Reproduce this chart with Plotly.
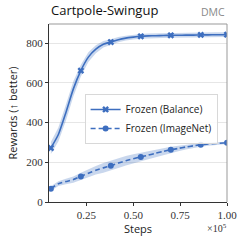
import plotly.graph_objects as go

steps = [0.06, 0.10, 0.14, 0.18, 0.22, 0.26, 0.30, 0.34, 0.38, 0.42, 0.46, 0.50,
         0.54, 0.58, 0.62, 0.66, 0.70, 0.74, 0.78, 0.82, 0.86, 0.90, 0.94, 0.98, 1.00]
balance_mean = [272, 340, 450, 570, 662, 730, 770, 795, 806, 818, 826, 831,
                835, 837, 838, 839, 840, 840, 841, 841, 842, 842, 843, 843, 843]
balance_std = [30, 35, 40, 38, 30, 25, 20, 16, 14, 13, 12, 12,
               12, 12, 12, 12, 12, 12, 12, 12, 12, 12, 12, 12, 12]
imagenet_mean = [67, 92, 103, 113, 129, 145, 160, 172, 183, 196, 208, 218,
                 227, 236, 246, 255, 263, 270, 277, 283, 288, 292, 295, 297, 298]
imagenet_std = [12, 12, 14, 16, 18, 20, 22, 24, 25, 25, 24, 23,
                22, 21, 20, 18, 16, 14, 12, 10, 9, 8, 7, 6, 6]
marker_every = 4

labels = ["Frozen (Balance)", "Frozen (ImageNet)"]
color = "#3d6ebf"
band = "rgba(61,110,191,0.28)"

fig = go.Figure()

def add_series(mean, std, dash, symbol, name):
    upper = [m + s for m, s in zip(mean, std)]
    lower = [m - s for m, s in zip(mean, std)]
    fig.add_trace(go.Scatter(x=steps + steps[::-1], y=upper + lower[::-1],
                             fill="toself", fillcolor=band, line=dict(width=0),
                             mode="lines", showlegend=False, hoverinfo="skip"))
    fig.add_trace(go.Scatter(x=steps, y=mean, mode="lines",
                             line=dict(color=color, width=1.6, dash=dash, shape="spline", smoothing=0.6),
                             showlegend=False))
    fig.add_trace(go.Scatter(x=steps[::marker_every], y=mean[::marker_every], mode="markers",
                             marker=dict(color=color, size=6, symbol=symbol),
                             showlegend=False))
    fig.add_trace(go.Scatter(x=[None], y=[None], mode="lines+markers", name=name,
                             line=dict(color=color, width=1.6, dash=dash),
                             marker=dict(color=color, size=6, symbol=symbol)))

add_series(balance_mean, balance_std, "solid", "x", labels[0])
add_series(imagenet_mean, imagenet_std, "5px,3px", "circle", labels[1])

serif = "Liberation Serif"
sans = "Open Sans"

fig.update_layout(
    width=243, height=244,
    margin=dict(l=49, r=16, t=24, b=42),
    paper_bgcolor="white", plot_bgcolor="white",
    showlegend=True,
    legend=dict(x=0.2, y=0.607, xanchor="left", yanchor="top",
                bgcolor="rgba(255,255,255,0.85)", bordercolor="#d8d8d8", borderwidth=1,
                font=dict(family=sans, size=10, color="#222"),
                tracegroupgap=0, itemwidth=30),
    xaxis=dict(range=[0.05, 1.0], tickvals=[0.25, 0.5, 0.75, 1.0],
               ticktext=["0.25", "0.50", "0.75", "1.00"], automargin=False,
               showgrid=False, zeroline=False, ticks="outside", ticklen=3,
               tickcolor="#333", linecolor="#333", linewidth=1, mirror=False,
               tickfont=dict(family=serif, size=11, color="#333"),
               title=dict(text="Steps", font=dict(family=sans, size=11, color="#222"), standoff=3)),
    yaxis=dict(range=[0, 897], tickvals=[0, 200, 400, 600, 800], automargin=False,
               showgrid=True, gridcolor="#e6e6e6", gridwidth=1, zeroline=False,
               ticks="outside", ticklen=3, tickcolor="#333", linecolor="#333", linewidth=1,
               tickfont=dict(family=serif, size=11, color="#333"),
               title=dict(text="Rewards (↑ better)", font=dict(family=sans, size=11, color="#222"), standoff=6)),
)

# top and right spines (gray)
fig.add_shape(type="line", xref="paper", yref="paper", x0=0, x1=1, y0=1, y1=1,
              line=dict(color="#999", width=1))
fig.add_shape(type="line", xref="paper", yref="paper", x0=1, x1=1, y0=0, y1=1,
              line=dict(color="#999", width=1))

fig.add_annotation(text="Cartpole-Swingup", xref="paper", yref="paper", x=0, y=1.015,
                   xanchor="left", yanchor="bottom", showarrow=False,
                   font=dict(family=sans, size=13, color="#111"))
fig.add_annotation(text="DMC", xref="paper", yref="paper", x=1, y=1.015,
                   xanchor="right", yanchor="bottom", showarrow=False,
                   font=dict(family=sans, size=10.5, color="#888"))
fig.add_annotation(text="×10<sup>5</sup>", xref="paper", yref="paper", x=1.01, y=-0.1,
                   xanchor="right", yanchor="top", showarrow=False,
                   font=dict(family=serif, size=10, color="#333"))

fig.write_html("out.html", config={"displayModeBar": False},
               post_script="document.body.style.margin='0';")
